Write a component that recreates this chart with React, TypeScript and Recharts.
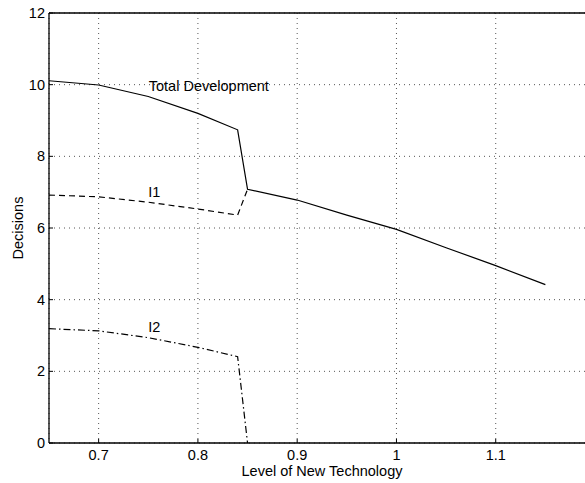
import {
  LineChart,
  Line,
  XAxis,
  YAxis,
  CartesianGrid,
  ReferenceDot,
} from "recharts";

// Decisions vs. level of new technology
const X_TOTAL = [0.65, 0.7, 0.75, 0.8, 0.84, 0.85, 0.9, 0.95, 1.0, 1.05, 1.1, 1.15];
const TOTAL = [10.11, 9.99, 9.67, 9.2, 8.74, 7.08, 6.78, 6.36, 5.96, 5.45, 4.95, 4.42];

const X_PART = [0.65, 0.7, 0.75, 0.8, 0.84, 0.85];
const I1 = [6.92, 6.87, 6.72, 6.53, 6.36, 7.08];
const I2 = [3.19, 3.13, 2.94, 2.67, 2.41, 0];

const X_TICKS = [0.7, 0.8, 0.9, 1, 1.1];
const Y_TICKS = [0, 2, 4, 6, 8, 10, 12];

const LABELS = [
  { x: 0.811, y: 9.96, text: "Total Development" },
  { x: 0.756, y: 7.0, text: "I1" },
  { x: 0.756, y: 3.24, text: "I2" },
];

const FONT = "'Liberation Sans', Arial, Helvetica, sans-serif";
const FS = 14.5;

const totalData = X_TOTAL.map((x, i) => ({ x, y: TOTAL[i] }));
const i1Data = X_PART.map((x, i) => ({ x, y: I1[i] }));
const i2Data = X_PART.map((x, i) => ({ x, y: I2[i] }));

const tickStyle = { fontSize: FS, fontFamily: FONT, fill: "#000" };

export default function App() {
  return (
    <div
      style={{
        position: "absolute",
        left: 0,
        top: 0,
        width: 585,
        height: 483,
        overflow: "hidden",
        background: "#fff",
      }}
    >
      <LineChart
        width={620}
        height={483}
        margin={{ top: 0, right: 25, bottom: 0, left: 0 }}
      >
        <CartesianGrid stroke="#555" strokeDasharray="1 4" />
        <XAxis
          type="number"
          dataKey="x"
          domain={[0.65, 1.2]}
          ticks={X_TICKS}
          allowDataOverflow
          height={40}
          tick={tickStyle}
          tickSize={-4}
          tickMargin={11}
          tickLine={{ stroke: "#000" }}
          axisLine={{ stroke: "#000", strokeWidth: 1.3 }}
          tickFormatter={(v) => String(Math.round(v * 10) / 10)}
          label={{
            content: ({ viewBox }: any) => (
              <text
                x={viewBox.x + viewBox.width / 2}
                y={443 + 33}
                textAnchor="middle"
                fontSize={FS}
                fontFamily={FONT}
                fill="#000"
              >
                Level of New Technology
              </text>
            ),
          }}
        />
        <XAxis
          xAxisId="top"
          orientation="top"
          type="number"
          dataKey="x"
          domain={[0.65, 1.2]}
          ticks={X_TICKS}
          allowDataOverflow
          height={13}
          tick={false}
          tickSize={-4}
          tickLine={{ stroke: "#000" }}
          axisLine={{ stroke: "#000", strokeWidth: 1.3 }}
        />
        <YAxis
          type="number"
          domain={[0, 12]}
          ticks={Y_TICKS}
          width={49}
          tick={tickStyle}
          tickSize={-4}
          tickMargin={8}
          tickLine={{ stroke: "#000" }}
          axisLine={{ stroke: "#000", strokeWidth: 1.3 }}
          label={{
            content: () => {
              const cx = 18;
              const cy = 228;
              return (
                <text
                  x={cx}
                  y={cy}
                  textAnchor="middle"
                  fontSize={FS}
                  fontFamily={FONT}
                  fill="#000"
                  transform={`rotate(-90 ${cx} ${cy})`}
                  dominantBaseline="central"
                >
                  Decisions
                </text>
              );
            },
          }}
        />
        <Line
          data={totalData}
          dataKey="y"
          stroke="#000"
          strokeWidth={1.2}
          dot={false}
          isAnimationActive={false}
        />
        <Line
          data={i1Data}
          dataKey="y"
          stroke="#000"
          strokeWidth={1.2}
          strokeDasharray="6 4"
          dot={false}
          isAnimationActive={false}
        />
        <Line
          data={i2Data}
          dataKey="y"
          stroke="#000"
          strokeWidth={1.2}
          strokeDasharray="7 3 1.5 3"
          dot={false}
          isAnimationActive={false}
        />
        {LABELS.map((l) => (
          <ReferenceDot
            key={l.text}
            x={l.x}
            y={l.y}
            r={1}
            fill="none"
            stroke="none"
            label={{
              value: l.text,
              position: "center",
              fontSize: FS,
              fontFamily: FONT,
              fill: "#000",
            }}
          />
        ))}
      </LineChart>
    </div>
  );
}
